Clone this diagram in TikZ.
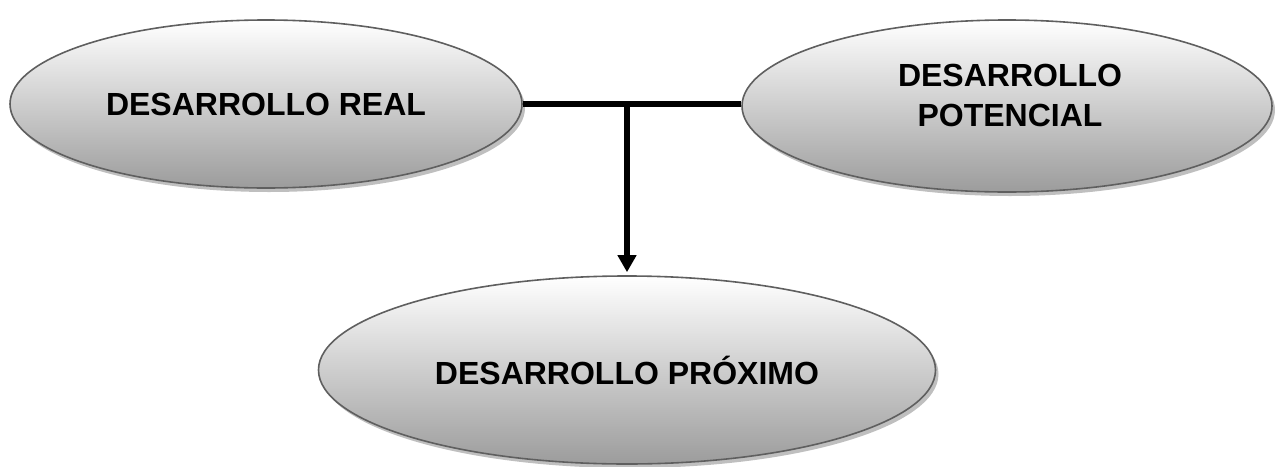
\documentclass[tikz,border=0pt]{standalone}
\usepackage{fontspec}
\setmainfont{Liberation Sans}
\usetikzlibrary{shapes.geometric,shadows,arrows.meta}

\definecolor{rim}{HTML}{5F5F5F}
\definecolor{bottomgray}{HTML}{9C9C9C}

\tikzset{
  etapa/.style={ellipse, draw=rim, line width=1.6pt, inner sep=0pt,
    top color=white, bottom color=bottomgray,
    general shadow={shadow xshift=3pt, shadow yshift=-4pt, fill=black!25},
    font=\fontsize{32}{40}\selectfont\bfseries, align=center},
  rotulo/.style={font=\fontsize{32}{40}\selectfont\bfseries, align=center},
  enlace/.style={line width=6pt},
  flecha/.style={line width=6pt, -{Triangle[length=17pt,width=18pt]}}
}

\begin{document}
\begin{tikzpicture}[x=1pt,y=-1pt]
\useasboundingbox (0,0) rectangle (1280,466);
\node [etapa, minimum width=512pt, minimum height=168pt] (real) at (266,104) {DESARROLLO REAL};
\node [etapa, minimum width=530pt, minimum height=172pt] (potencial) at (1007,106) {};
\node [rotulo] (potencial-txt) at (1010,95) {DESARROLLO\\POTENCIAL};
\node [etapa, minimum width=617pt, minimum height=188pt] (proximo) at (627,370) {DESARROLLO PRÓXIMO};
% union de las dos etapas y flecha hacia la zona
\draw [enlace] (real.east) -- (real.east -| potencial.west);
\coordinate (union) at (real.east -| proximo.north);
\draw [flecha] (union) -- ([yshift=3pt]proximo.north);
\end{tikzpicture}
\end{document}
